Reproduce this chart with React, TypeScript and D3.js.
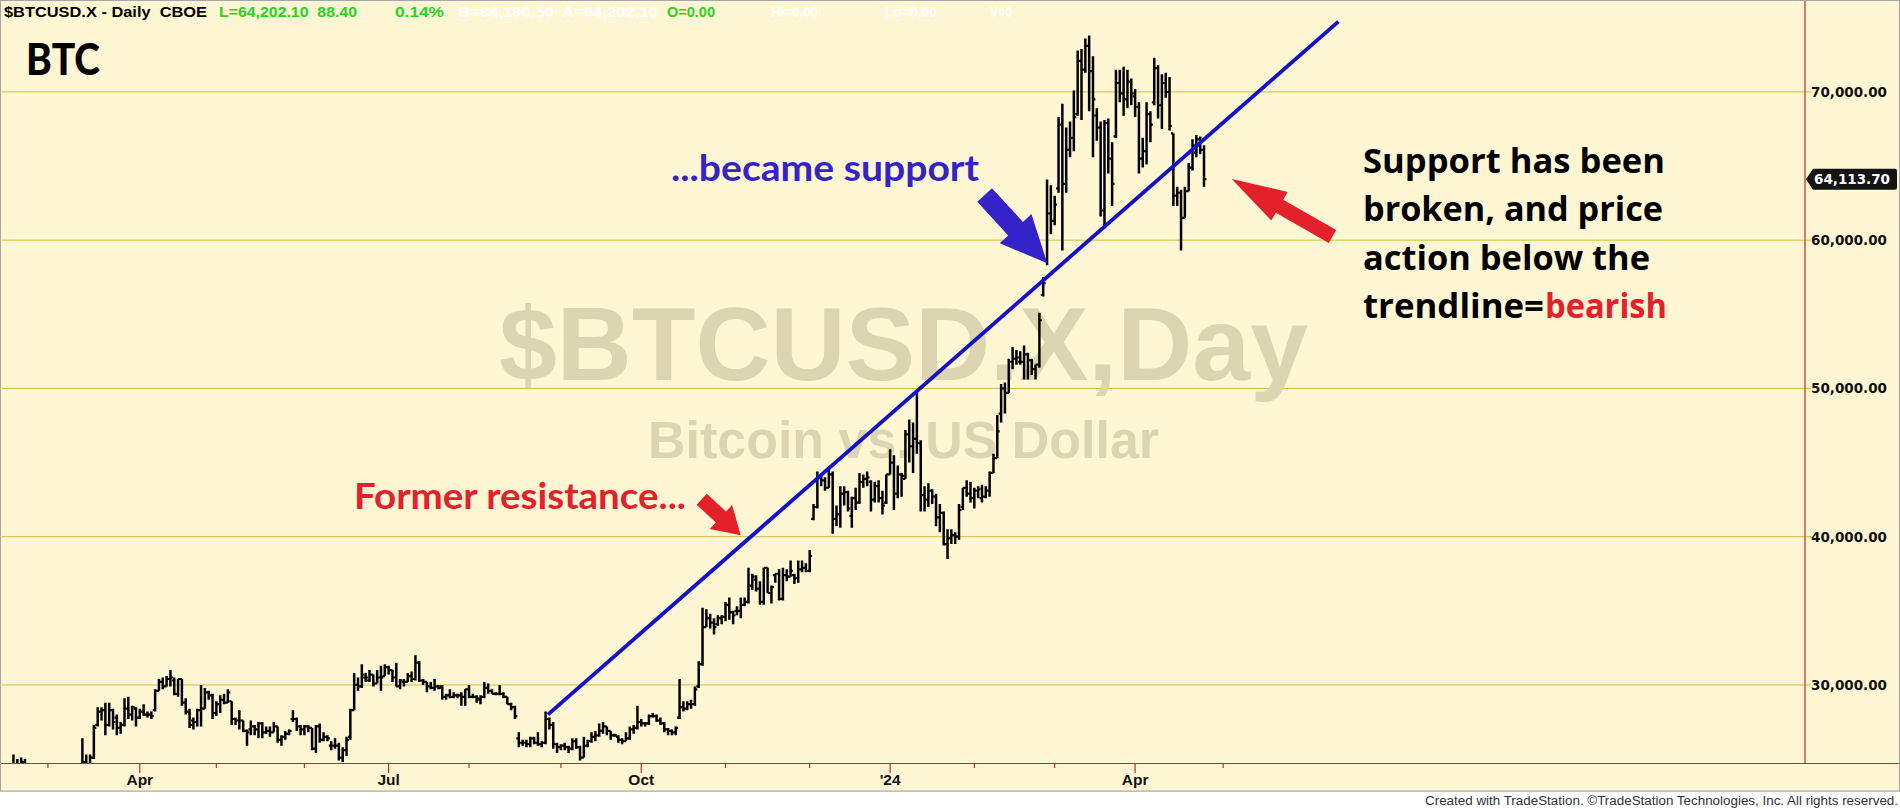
import React from 'react';
import * as d3 from 'd3';

// ---------- DATA (prices in thousands of USD, one bar per trading day) ----------
const opens = [
  22.2, 24.3, 23.6, 24.6, 24.8, 24.4, 24.2, 23.9, 23.5, 23.5,
  23.1, 23.6, 23.5, 22.4, 22.4, 22.2, 21.7, 20.4, 22.1, 24.2,
  24.8, 24.4, 25.1, 27.3, 28.2, 28.3, 27.3, 28.3, 27.8, 27.1,
  27.3, 28.4, 28.0, 28.4, 27.8, 28.2, 28.0, 28.0, 28.3, 29.6,
  30.2, 29.9, 30.4, 30.3, 29.4, 30.4, 28.8, 28.2, 27.6, 27.5,
  28.3, 28.4, 29.5, 29.3, 28.1, 28.7, 29.0, 28.8, 28.9, 27.7,
  27.6, 27.6, 26.9, 27.0, 27.2, 27.0, 27.4, 26.8, 26.9, 26.8,
  27.2, 26.3, 26.5, 26.7, 27.7, 27.7, 27.2, 27.0, 27.2, 27.1,
  25.7, 27.2, 26.3, 26.5, 25.9, 25.9, 25.9, 25.1, 25.6, 26.5,
  28.3, 30.0, 29.9, 30.5, 30.3, 30.7, 30.1, 30.5, 30.6, 31.2,
  31.0, 30.5, 29.9, 30.2, 30.2, 30.6, 30.4, 31.5, 30.3, 30.2,
  29.9, 29.8, 29.9, 29.9, 29.2, 29.3, 29.2, 29.3, 29.3, 29.2,
  29.7, 29.2, 29.2, 29.0, 29.2, 29.8, 29.6, 29.4, 29.4, 29.4,
  29.2, 28.7, 28.5, 26.4, 26.1, 26.1, 26.0, 26.4, 26.1, 26.0,
  26.1, 27.7, 27.3, 26.0, 25.8, 25.9, 25.8, 25.7, 26.2, 25.8,
  25.1, 25.9, 26.2, 26.5, 26.6, 26.9, 27.2, 26.9, 26.6, 26.5,
  26.3, 26.2, 26.4, 27.0, 27.1, 27.5, 27.4, 27.4, 27.9, 27.9,
  27.6, 27.4, 27.0, 26.9, 26.8, 27.8, 28.5, 28.4, 28.7, 28.7,
  29.9, 31.4, 33.9, 34.5, 34.2, 34.1, 34.5, 34.6, 35.4, 34.9,
  35.0, 35.0, 35.4, 35.6, 36.7, 37.1, 36.5, 35.6, 37.9, 36.2,
  37.4, 37.5, 35.8, 37.4, 37.3, 37.4, 37.2, 37.8, 37.9, 37.7,
  41.2, 42.0, 44.1, 43.8, 43.3, 44.2, 41.2, 41.5, 42.9, 43.0,
  41.4, 42.6, 42.3, 43.7, 43.9, 43.7, 42.5, 43.4, 42.6, 42.3,
  44.2, 45.0, 42.9, 44.2, 43.9, 46.9, 46.1, 46.6, 46.3, 42.8,
  42.5, 43.1, 42.7, 41.3, 41.6, 39.5, 39.9, 40.1, 40.0, 42.0,
  43.3, 42.9, 42.6, 43.1, 42.6, 42.7, 43.1, 44.3, 45.3, 48.3,
  50.0, 49.7, 51.8, 52.0, 51.8, 51.8, 52.3, 51.9, 51.3, 51.6,
  56.3, 58.6, 61.8, 61.3, 63.5, 67.8, 63.8, 66.1, 66.9, 68.5,
  72.1, 71.5, 73.1, 71.4, 68.4, 67.6, 62.0, 67.9, 65.5, 67.0,
  70.6, 69.9, 69.5, 70.7, 69.7, 69.0, 65.5, 66.0, 68.5, 69.3,
  71.6, 69.1, 70.6, 70.0, 67.2, 63.0, 63.2, 61.5, 63.3, 64.9,
  65.9, 66.8, 66.1,
];

const highs = [
  24.4, 25.3, 25.0, 25.1, 25.0, 24.6, 24.6, 24.1, 23.9, 23.6,
  23.9, 23.8, 23.5, 22.6, 22.5, 22.3, 21.8, 20.8, 24.5, 26.4,
  25.3, 25.3, 27.3, 28.5, 28.5, 28.8, 28.8, 28.4, 28.0, 27.5,
  29.1, 29.2, 28.6, 28.5, 28.4, 28.7, 28.2, 28.2, 29.7, 30.4,
  30.5, 30.6, 31.0, 30.5, 30.4, 30.4, 29.1, 28.4, 27.8, 28.4,
  30.0, 29.8, 29.6, 29.4, 28.9, 29.3, 29.4, 29.7, 28.9, 27.8,
  28.3, 27.6, 27.0, 27.6, 27.3, 27.5, 27.5, 27.2, 27.2, 27.5,
  27.2, 26.6, 26.9, 27.0, 28.3, 27.8, 27.3, 27.3, 27.3, 27.1,
  27.3, 27.4, 26.8, 26.6, 26.2, 26.4, 26.1, 25.8, 26.5, 28.4,
  30.8, 30.5, 31.4, 30.8, 31.0, 30.7, 31.0, 31.3, 31.4, 31.3,
  31.0, 31.5, 30.4, 30.4, 30.8, 30.9, 32.0, 31.6, 30.4, 30.2,
  30.2, 30.4, 30.0, 30.0, 29.4, 29.7, 29.5, 29.4, 29.5, 29.7,
  30.0, 29.4, 29.3, 29.3, 30.2, 30.1, 29.7, 29.5, 30.0, 29.5,
  29.2, 28.8, 28.6, 26.8, 26.3, 26.3, 26.5, 26.5, 26.8, 26.2,
  28.2, 27.8, 27.5, 26.1, 26.0, 26.1, 25.9, 26.4, 26.4, 25.9,
  26.5, 26.3, 26.8, 26.9, 27.4, 27.5, 27.2, 26.9, 26.7, 26.6,
  26.4, 26.8, 27.2, 27.3, 28.6, 27.7, 27.5, 28.0, 28.1, 28.0,
  27.8, 27.5, 27.1, 27.0, 27.2, 30.4, 28.9, 28.9, 29.0, 29.9,
  31.6, 35.2, 35.1, 34.8, 34.5, 34.7, 34.7, 35.6, 35.9, 35.0,
  35.3, 35.9, 35.9, 37.9, 37.5, 37.4, 37.0, 37.9, 37.9, 36.7,
  37.5, 37.8, 37.9, 37.8, 38.4, 37.5, 38.4, 38.4, 38.2, 39.1,
  42.2, 44.4, 44.3, 44.0, 44.7, 44.4, 42.1, 43.4, 43.4, 43.1,
  42.7, 43.3, 44.3, 44.2, 44.4, 43.8, 43.7, 43.8, 43.1, 44.2,
  45.9, 45.5, 44.8, 44.3, 47.2, 47.9, 47.7, 49.7, 46.5, 43.4,
  43.6, 43.2, 42.9, 42.2, 41.7, 40.5, 40.5, 40.3, 42.2, 43.3,
  43.8, 43.7, 43.3, 43.4, 43.5, 43.4, 44.4, 45.6, 48.2, 50.3,
  50.4, 52.0, 52.8, 52.6, 52.5, 52.9, 52.4, 52.0, 51.6, 55.1,
  57.5, 64.1, 63.7, 63.0, 68.3, 69.2, 67.6, 68.0, 70.1, 72.8,
  72.9, 73.6, 73.8, 72.4, 68.9, 68.0, 68.1, 68.2, 66.6, 71.5,
  71.5, 71.7, 71.5, 70.9, 70.2, 69.3, 66.9, 69.3, 68.7, 72.3,
  71.8, 71.2, 71.3, 71.0, 67.2, 63.6, 63.4, 63.6, 65.2, 66.8,
  67.1, 67.0, 66.4,
];

const lows = [
  22.1, 23.5, 23.4, 24.2, 24.1, 23.6, 23.6, 22.9, 23.1, 23.0,
  23.0, 23.2, 22.0, 22.2, 21.9, 21.6, 20.1, 19.6, 21.9, 24.1,
  23.9, 24.2, 25.0, 27.2, 27.6, 26.6, 27.2, 27.0, 26.6, 26.7,
  27.2, 27.7, 27.6, 27.2, 27.7, 27.9, 27.8, 27.7, 28.2, 29.6,
  29.7, 29.9, 29.9, 29.3, 29.2, 28.6, 28.0, 27.1, 27.0, 27.2,
  27.2, 28.4, 29.0, 27.7, 27.9, 28.1, 28.7, 28.8, 27.3, 27.3,
  27.0, 26.8, 25.9, 26.6, 26.6, 26.4, 26.4, 26.7, 26.5, 26.8,
  26.1, 25.9, 26.3, 26.6, 27.5, 26.9, 26.6, 26.6, 26.8, 25.6,
  25.4, 26.1, 26.2, 26.2, 25.6, 25.7, 24.9, 24.8, 25.2, 26.3,
  28.3, 29.6, 29.8, 30.2, 30.2, 29.9, 30.1, 29.6, 30.6, 30.7,
  30.2, 29.9, 29.7, 29.9, 30.2, 30.2, 30.3, 30.2, 30.0, 29.5,
  29.7, 29.6, 29.7, 29.0, 29.0, 29.1, 29.1, 29.1, 28.6, 28.6,
  29.1, 29.1, 28.8, 28.7, 29.1, 29.4, 29.4, 29.3, 29.3, 29.1,
  28.7, 28.3, 27.7, 25.8, 25.9, 25.8, 25.8, 26.0, 25.9, 25.8,
  26.0, 27.0, 25.7, 25.4, 25.6, 25.6, 25.4, 25.6, 25.7, 24.9,
  25.1, 25.8, 26.1, 26.2, 26.5, 26.7, 26.6, 26.3, 26.5, 26.1,
  26.0, 26.2, 26.3, 26.7, 27.0, 27.2, 27.2, 27.3, 27.8, 27.5,
  27.3, 26.8, 26.6, 26.6, 26.6, 27.7, 28.2, 28.3, 28.4, 28.6,
  29.8, 31.3, 33.9, 33.8, 33.4, 34.0, 34.1, 34.3, 34.4, 34.1,
  34.7, 34.5, 35.3, 35.5, 36.4, 36.3, 35.4, 35.4, 36.2, 35.5,
  36.9, 35.7, 35.7, 37.0, 37.3, 36.8, 36.9, 37.6, 37.6, 37.6,
  41.1, 41.9, 43.4, 43.1, 43.3, 40.2, 40.7, 40.6, 42.1, 41.7,
  40.6, 41.8, 42.2, 43.3, 43.4, 41.7, 42.3, 42.3, 41.5, 42.2,
  44.2, 41.8, 42.6, 42.7, 43.9, 45.0, 44.3, 45.6, 41.7, 41.7,
  42.0, 42.2, 40.7, 40.3, 39.4, 38.5, 39.5, 39.5, 39.8, 41.8,
  42.7, 42.3, 41.9, 42.6, 42.3, 42.6, 42.7, 44.3, 45.3, 47.7,
  48.3, 49.7, 51.3, 51.6, 51.6, 50.6, 50.6, 50.9, 50.6, 51.4,
  56.2, 58.3, 60.4, 61.0, 63.2, 59.3, 63.2, 65.6, 66.0, 68.4,
  68.1, 71.3, 68.7, 65.6, 66.7, 61.6, 60.8, 64.5, 62.3, 66.9,
  69.3, 68.4, 68.9, 69.1, 68.3, 64.5, 64.9, 65.1, 66.6, 69.1,
  68.2, 67.5, 69.6, 67.4, 62.3, 62.3, 59.3, 61.5, 63.3, 64.7,
  65.6, 65.8, 63.6,
];

const closes = [
  24.3, 23.6, 24.6, 24.8, 24.4, 24.2, 23.9, 23.2, 23.5, 23.1,
  23.6, 23.5, 22.4, 22.4, 22.2, 21.7, 20.4, 20.6, 24.2, 24.8,
  24.4, 25.1, 27.1, 28.2, 28.3, 27.3, 28.3, 27.5, 27.1, 27.3,
  28.4, 28.0, 28.5, 27.8, 28.2, 28.0, 28.0, 27.9, 29.6, 30.2,
  29.9, 30.4, 30.5, 29.4, 30.4, 28.8, 28.2, 27.3, 27.5, 28.3,
  28.4, 29.5, 29.3, 28.1, 28.7, 29.0, 28.8, 29.5, 27.7, 27.6,
  27.6, 26.9, 26.8, 27.2, 27.0, 27.4, 26.8, 26.9, 26.8, 27.2,
  26.3, 26.5, 26.7, 26.9, 27.7, 27.2, 27.0, 27.2, 27.1, 25.7,
  27.2, 26.3, 26.5, 26.4, 25.9, 25.9, 25.1, 25.6, 26.3, 28.3,
  30.0, 29.9, 30.7, 30.5, 30.7, 30.1, 30.5, 30.5, 31.2, 31.0,
  30.5, 29.9, 30.3, 30.2, 30.6, 30.4, 31.5, 30.3, 30.2, 29.9,
  29.8, 29.9, 29.8, 29.2, 29.3, 29.2, 29.3, 29.3, 29.2, 29.7,
  29.2, 29.2, 29.1, 29.2, 29.8, 29.6, 29.4, 29.4, 29.4, 29.2,
  28.7, 28.5, 27.9, 26.1, 26.1, 26.0, 26.4, 26.1, 26.0, 26.1,
  27.7, 27.3, 26.0, 25.8, 25.9, 25.8, 25.7, 26.2, 25.8, 25.1,
  25.9, 26.2, 26.5, 26.6, 26.9, 27.2, 26.9, 26.6, 26.6, 26.3,
  26.2, 26.4, 27.0, 27.1, 27.5, 27.4, 27.4, 27.9, 27.9, 27.6,
  27.4, 27.0, 26.9, 26.8, 27.1, 28.5, 28.4, 28.7, 28.7, 29.7,
  31.4, 33.9, 34.5, 34.2, 33.9, 34.5, 34.6, 35.4, 34.9, 34.7,
  35.0, 35.4, 35.6, 36.7, 37.3, 36.5, 35.6, 37.9, 36.2, 36.6,
  37.5, 35.8, 37.4, 37.3, 37.7, 37.2, 37.8, 37.9, 37.7, 38.7,
  42.0, 44.1, 43.8, 43.3, 44.2, 41.2, 41.5, 42.9, 43.0, 41.9,
  42.6, 42.3, 43.7, 43.9, 44.0, 42.5, 43.4, 42.6, 42.1, 44.2,
  45.0, 42.9, 44.2, 44.1, 46.9, 46.1, 46.6, 46.3, 42.8, 42.5,
  43.1, 42.7, 41.3, 41.6, 39.5, 39.9, 40.1, 40.0, 41.8, 43.3,
  42.9, 42.6, 43.1, 43.2, 42.7, 43.1, 44.3, 45.3, 47.1, 50.0,
  49.7, 51.8, 52.0, 52.1, 51.8, 52.3, 51.9, 51.3, 51.6, 54.6,
  57.1, 61.8, 61.3, 62.4, 67.8, 63.8, 66.1, 66.9, 68.3, 72.1,
  71.5, 73.1, 71.4, 69.5, 67.6, 62.0, 67.9, 65.5, 63.8, 70.6,
  69.9, 69.5, 70.7, 69.9, 69.0, 65.5, 66.0, 68.5, 67.8, 71.6,
  69.1, 70.6, 70.0, 67.7, 63.0, 63.2, 61.5, 63.3, 64.9, 66.4,
  66.8, 66.1, 64.1137,
];

// month boundaries (bar index of first bar of each month)
const monthTickIdx = [10, 34, 54, 77, 99, 120, 144, 165, 187, 209, 230, 252, 273, 294, 317];
const monthLabels = ['', 'Apr', '', '', 'Jul', '', '', 'Oct', '', '', "'24", '', '', 'Apr', ''];
const priceTicks = [30, 40, 50, 60, 70];

// trendline: [bar index, price in thousands]
const trendStart = [140.6, 28.0];
const trendEnd = [347.1, 74.74];

// arrows: tail and tip in [bar index, price in thousands]
const blueArrow = { tail: [254.7, 63.05], tip: [271.07, 58.44] };
const redArrowLeft = { tail: [180.78, 42.53], tip: [190.97, 40.09] };
const redArrowRight = { tail: [345.57, 60.25], tip: [319.24, 64.13] };

const headerParts = [
  { text: '$BTCUSD.X - Daily  CBOE', color: '#000000', x: 4, w: 203 },
  { text: 'L=64,202.10  88.40', color: '#25d425', x: 219, w: 138 },
  { text: '0.14%', color: '#25d425', x: 395, w: 49 },
  { text: 'B=64,190.50', color: '#ffffff', x: 458, w: 96 },
  { text: 'A=64,202.10', color: '#ffffff', x: 562, w: 96 },
  { text: 'O=0.00', color: '#25d425', x: 667, w: 48 },
  { text: 'Hi=0.00', color: '#ffffff', x: 771, w: 47 },
  { text: 'Lo=0.00', color: '#ffffff', x: 885, w: 52 },
  { text: 'V=0', color: '#ffffff', x: 990, w: 22 },
];

// ---------- STYLE ----------
const BG = '#fff6d3';
const GRID = '#c9c040';
const AXIS = '#c0282a';
const RED = '#e3202b';
const BLUE_TXT = '#3323c8';
const TREND = '#1212cc';
const WATER = '#ddd4b1';

function arrowPoints(
  tail: number[], tip: number[], shaft: number, headW: number, headL: number,
): string {
  const dx = tip[0] - tail[0];
  const dy = tip[1] - tail[1];
  const len = Math.hypot(dx, dy);
  const ux = dx / len, uy = dy / len;
  const nx = -uy, ny = ux;
  const bx = tip[0] - ux * headL, by = tip[1] - uy * headL;
  const pts = [
    [tail[0] + nx * shaft / 2, tail[1] + ny * shaft / 2],
    [bx + nx * shaft / 2, by + ny * shaft / 2],
    [bx + nx * headW / 2, by + ny * headW / 2],
    [tip[0], tip[1]],
    [bx - nx * headW / 2, by - ny * headW / 2],
    [bx - nx * shaft / 2, by - ny * shaft / 2],
    [tail[0] - nx * shaft / 2, tail[1] - ny * shaft / 2],
  ];
  return pts.map((p) => `${p[0].toFixed(1)},${p[1].toFixed(1)}`).join(' ');
}

export default function App() {
  const W = 1900, H = 809;
  const plotL = 2, plotR = 1805, plotT = 0, plotB = 763.5;

  const x = d3.scaleLinear().domain([-2, 469]).range([plotL, plotR]);
  const y = d3.scaleLinear().domain([24.7, 76.2]).range([plotB, plotT]);

  // OHLC bars
  const hl = d3.path();
  const oc = d3.path();
  closes.forEach((c, i) => {
    const xi = x(i);
    hl.moveTo(xi, y(highs[i]));
    hl.lineTo(xi, y(lows[i]));
    oc.moveTo(xi - 2.4, y(opens[i]));
    oc.lineTo(xi, y(opens[i]));
    oc.moveTo(xi, y(c));
    oc.lineTo(xi + 2.4, y(c));
  });

  const toPx = (p: number[]) => [x(p[0]), y(p[1])];
  const lastClose = closes[closes.length - 1];
  const lastY = y(lastClose);
  const fmt = d3.format(',.2f');

  const sansBold = "'Liberation Sans', Arial, sans-serif";

  return (
    <svg
      width={W}
      height={H}
      viewBox={`0 0 ${W} ${H}`}
      style={{ position: 'absolute', left: 0, top: 0, display: 'block' }}
      xmlns="http://www.w3.org/2000/svg"
    >
      <defs>
        <clipPath id="plot-clip">
          <rect x={plotL} y={plotT} width={plotR - plotL} height={plotB - plotT} />
        </clipPath>
      </defs>

      {/* backgrounds */}
      <rect x={0} y={0} width={W} height={H} fill="#ffffff" />
      <rect x={0} y={0} width={W} height={791} fill={BG} />
      <line x1={0} x2={W} y1={791.5} y2={791.5} stroke="#d8d8d8" strokeWidth={1} />

      {/* horizontal gridlines */}
      {priceTicks.map((t) => (
        <g key={t}>
          <line x1={plotL} x2={plotR} y1={y(t)} y2={y(t)} stroke={GRID} strokeWidth={1} />
          <line x1={plotR} x2={plotR + 6} y1={y(t)} y2={y(t)} stroke={GRID} strokeWidth={1} />
          <text
            x={plotR + 6}
            y={y(t)}
            dy="0.36em"
            fontFamily="'DejaVu Sans', Verdana, sans-serif"
            fontWeight="bold"
            fontSize={13.5}
            fill="#111"
          >
            {fmt(t * 1000)}
          </text>
        </g>
      ))}

      {/* watermark */}
      <text
        x={(plotL + plotR) / 2}
        y={380}
        textAnchor="middle"
        fontFamily={sansBold}
        fontWeight="bold"
        fontSize={103}
        fill={WATER}
        textLength={809}
        lengthAdjust="spacingAndGlyphs"
      >
        $BTCUSD.X,Day
      </text>
      <text
        x={(plotL + plotR) / 2}
        y={458}
        textAnchor="middle"
        fontFamily={sansBold}
        fontWeight="bold"
        fontSize={51}
        fill={WATER}
        textLength={511}
        lengthAdjust="spacingAndGlyphs"
      >
        Bitcoin vs. US Dollar
      </text>

      {/* price bars */}
      <g clipPath="url(#plot-clip)">
        <path d={hl.toString()} stroke="#000" strokeWidth={2.5} fill="none" />
        <path d={oc.toString()} stroke="#000" strokeWidth={2.2} fill="none" />
      </g>

      {/* trendline */}
      <line
        x1={x(trendStart[0])}
        y1={y(trendStart[1])}
        x2={x(trendEnd[0])}
        y2={y(trendEnd[1])}
        stroke={TREND}
        strokeWidth={3.8}
      />

      {/* axes */}
      <line x1={plotR} x2={plotR} y1={0} y2={plotB} stroke={AXIS} strokeWidth={1.2} />
      <line x1={0} x2={W} y1={plotB} y2={plotB} stroke={AXIS} strokeWidth={1.2} />
      {monthTickIdx.map((m, k) => (
        <g key={m}>
          <line
            x1={x(m)}
            x2={x(m)}
            y1={plotB}
            y2={plotB + (monthLabels[k] ? 9.5 : 4.5)}
            stroke={AXIS}
            strokeWidth={1.2}
          />
          {monthLabels[k] && (
            <text
              x={x(m)}
              y={785}
              textAnchor="middle"
              fontFamily={sansBold}
              fontWeight="bold"
              fontSize={15.5}
              fill="#111"
            >
              {monthLabels[k]}
            </text>
          )}
        </g>
      ))}

      {/* last price marker */}
      <path
        d={`M${plotR + 1},${lastY} L${plotR + 8},${lastY - 10.5} L${plotR + 90},${lastY - 10.5} Q${plotR + 92},${lastY - 10.5} ${plotR + 92},${lastY - 8.5} L${plotR + 92},${lastY + 8.5} Q${plotR + 92},${lastY + 10.5} ${plotR + 90},${lastY + 10.5} L${plotR + 8},${lastY + 10.5} Z`}
        fill="#141414"
      />
      <text
        x={plotR + 9}
        y={lastY}
        dy="0.36em"
        fontFamily="'DejaVu Sans', Verdana, sans-serif"
        fontWeight="bold"
        fontSize={13.5}
        fill="#ffffff"
      >
        {fmt(lastClose * 1000)}
      </text>

      {/* header */}
      {headerParts.map((h) => (
        <text
          key={h.text}
          x={h.x}
          y={17}
          fontFamily={sansBold}
          fontWeight="bold"
          fontSize={15}
          fill={h.color}
          textLength={h.w}
          lengthAdjust="spacingAndGlyphs"
          style={{ whiteSpace: 'pre' }}
        >
          {h.text}
        </text>
      ))}

      {/* BTC title */}
      <text
        x={26}
        y={75}
        fontFamily="Lato, 'Open Sans', sans-serif"
        fontWeight="900"
        fontSize={44}
        fill="#000"
        textLength={74}
        lengthAdjust="spacingAndGlyphs"
      >
        BTC
      </text>

      {/* arrows */}
      <polygon points={arrowPoints(toPx(blueArrow.tail), toPx(blueArrow.tip), 20, 43, 47)} fill={BLUE_TXT} />
      <polygon points={arrowPoints(toPx(redArrowLeft.tail), toPx(redArrowLeft.tip), 15, 33, 27)} fill={RED} />
      <polygon points={arrowPoints(toPx(redArrowRight.tail), toPx(redArrowRight.tip), 15, 33, 55)} fill={RED} />

      {/* annotations */}
      <text
        x={671}
        y={181}
        fontFamily="Lato, 'Open Sans', sans-serif"
        fontWeight="bold"
        fontSize={36}
        fill={BLUE_TXT}
        textLength={308}
        lengthAdjust="spacingAndGlyphs"
      >
        ...became support
      </text>
      <text
        x={354}
        y={508.5}
        fontFamily="Lato, 'Open Sans', sans-serif"
        fontWeight="bold"
        fontSize={36}
        fill={RED}
        textLength={332}
        lengthAdjust="spacingAndGlyphs"
      >
        Former resistance...
      </text>

      <g fontFamily="'Open Sans', 'DejaVu Sans', sans-serif" fontWeight="bold" fontSize={33.5} fill="#000">
        <text x={1363} y={172.5} textLength={302} lengthAdjust="spacingAndGlyphs">Support has been</text>
        <text x={1363} y={221} textLength={300} lengthAdjust="spacingAndGlyphs">broken, and price</text>
        <text x={1363} y={269.5} textLength={287} lengthAdjust="spacingAndGlyphs">action below the</text>
        <text x={1363} y={318} textLength={181} lengthAdjust="spacingAndGlyphs">trendline=</text>
        <text x={1545} y={318} textLength={122} lengthAdjust="spacingAndGlyphs" fill={RED}>bearish</text>
      </g>

      {/* footer */}
      <text
        x={1898}
        y={805}
        textAnchor="end"
        fontFamily="'Liberation Sans Narrow', 'Liberation Sans', Arial, sans-serif"
        fontSize={12.5}
        fill="#333"
        textLength={473}
        lengthAdjust="spacingAndGlyphs"
      >
        Created with TradeStation. ©TradeStation Technologies, Inc. All rights reserved.
      </text>

      {/* outer border */}
      <rect x={0.5} y={0.5} width={W - 1} height={790.5} fill="none" stroke="#a6a6a6" strokeWidth={1} />
    </svg>
  );
}
